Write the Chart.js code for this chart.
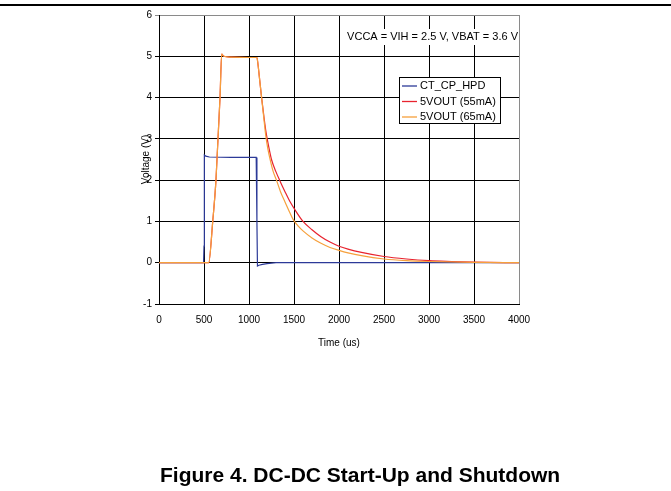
<!DOCTYPE html>
<html>
<head>
<meta charset="utf-8">
<script src="https://cdn.jsdelivr.net/npm/chart.js@4"></script>
<style>
  body { margin: 0; background: #fff; width: 671px; height: 491px; overflow: hidden; position: relative; font-family: "Liberation Sans", Arial, sans-serif; }
  #rule { position: absolute; left: 0; top: 4px; width: 671px; height: 1.5px; background: #000; }
  #caption { position: absolute; left: 160px; top: 462px; white-space: nowrap; font-weight: bold; font-size: 21px; line-height: 26px; color: #000; }
  canvas { position: absolute; left: 0; top: 0; }
</style>
</head>
<body>
<div id="rule"></div>
<canvas id="chart" width="671" height="491"></canvas>
<div id="caption">Figure 4. DC-DC Start-Up and Shutdown</div>
<script>
const seriesNames = ["CT_CP_HPD", "5VOUT (55mA)", "5VOUT (65mA)"];
const seriesColors = ["#2c3a98", "#e8232e", "#f6a03c"];

const ctTime = [0, 250, 495, 500, 504, 520, 560, 800, 1080, 1088, 1094, 1110, 1150, 1200, 1300, 2000, 3000, 4000];
const ctVolt = [0, 0, 0, 0.4, 2.61, 2.58, 2.56, 2.55, 2.55, 1.0, -0.08, -0.06, -0.04, -0.02, 0, 0, 0, 0];

const v55Time = [0, 250, 552, 597, 633, 678, 697, 720, 800, 1000, 1088, 1100, 1120, 1140, 1165, 1190, 1220, 1250, 1300, 1340, 1400, 1450, 1520, 1600, 1700, 1800, 1900, 2000, 2100, 2250, 2500, 2750, 3000, 3250, 3500, 4000];
const v55Volt = [0, 0, 0, 1.0, 2.0, 4.0, 5.05, 5.0, 4.98, 4.97, 4.97, 4.8, 4.4, 4.0, 3.55, 3.15, 2.8, 2.5, 2.2, 2.0, 1.72, 1.5, 1.25, 1.0, 0.8, 0.63, 0.5, 0.4, 0.33, 0.25, 0.15, 0.09, 0.05, 0.03, 0.015, 0];

const v65Time = [0, 250, 552, 597, 633, 678, 697, 720, 800, 1000, 1088, 1100, 1120, 1140, 1160, 1185, 1210, 1240, 1270, 1305, 1350, 1400, 1450, 1490, 1550, 1600, 1700, 1800, 1900, 2000, 2100, 2250, 2500, 2750, 3000, 3500, 4000];
const v65Volt = [0, 0, 0, 1.0, 2.0, 4.0, 5.05, 5.0, 4.98, 4.97, 4.97, 4.8, 4.4, 4.0, 3.6, 3.1, 2.75, 2.45, 2.2, 2.0, 1.72, 1.47, 1.23, 1.05, 0.88, 0.77, 0.6, 0.47, 0.37, 0.3, 0.24, 0.17, 0.09, 0.05, 0.03, 0.01, 0];

const noteText = "VCCA = VIH = 2.5 V, VBAT = 3.6 V";
const FONT = "'Liberation Sans', Arial, sans-serif";

function toPoints(t, v) {
    return t.map((x, i) => ({ x: x, y: v[i] }));
}

// legend box + condition note inside the plot
const overlayPlugin = {
    id: "overlay",
    afterDatasetsDraw(chart) {
        const ctx = chart.ctx;
        const x = chart.scales.x;
        ctx.save();
        ctx.font = "11px " + FONT;
        const w = ctx.measureText(noteText).width;
        ctx.fillStyle = "#fff";
        ctx.fillRect(x.right - w - 4, 29, w + 3, 16);
        ctx.fillStyle = "#000";
        ctx.textAlign = "right";
        ctx.textBaseline = "middle";
        ctx.fillText(noteText, x.right - 1, 37);

        const bx = 399, by = 77, bw = 101, bh = 46;
        ctx.fillStyle = "#fff";
        ctx.fillRect(bx, by, bw, bh);
        ctx.strokeStyle = "#000";
        ctx.lineWidth = 1;
        ctx.strokeRect(bx + 0.5, by + 0.5, bw, bh);
        ctx.textAlign = "left";
        seriesNames.forEach((name, i) => {
            const y = by + 9 + i * 15.5;
            ctx.strokeStyle = seriesColors[i];
            ctx.lineWidth = 1.3;
            ctx.beginPath();
            ctx.moveTo(bx + 3, y);
            ctx.lineTo(bx + 18, y);
            ctx.stroke();
            ctx.fillStyle = "#000";
            ctx.fillText(name, bx + 21, y);
        });
        ctx.restore();
    }
};

const sets = [
    { t: ctTime, v: ctVolt, order: 3 },
    { t: v55Time, v: v55Volt, order: 2 },
    { t: v65Time, v: v65Volt, order: 1 }
];

new Chart(document.getElementById("chart"), {
    type: "line",
    data: {
        datasets: sets.map((s, i) => ({
            label: seriesNames[i],
            data: toPoints(s.t, s.v),
            borderColor: seriesColors[i],
            borderWidth: 1.2,
            pointRadius: 0,
            cubicInterpolationMode: i === 0 ? "default" : "monotone",
            tension: i === 0 ? 0 : 0.4,
            fill: false,
            order: s.order
        }))
    },
    options: {
        responsive: false,
        animation: false,
        layout: { padding: { left: 140, right: 152, top: 15, bottom: 142 } },
        plugins: {
            legend: { display: false },
            tooltip: { enabled: false }
        },
        scales: {
            x: {
                type: "linear",
                min: 0,
                max: 4000,
                afterFit: s => { s.height = 45; },
                ticks: { stepSize: 500, color: "#000", font: { size: 10, family: FONT }, padding: 10, maxRotation: 0, callback: v => String(v) },
                grid: {
                    drawTicks: false,
                    lineWidth: 1,
                    color: c => (c.tick && c.tick.value === 4000) ? "#8a8a8a" : "#000"
                },
                border: { color: "#000" },
                title: { display: true, text: "Time (us)", color: "#000", font: { size: 10, family: FONT }, padding: 0 }
            },
            y: {
                min: -1,
                max: 6,
                afterFit: s => { s.width = 19; },
                ticks: { stepSize: 1, color: "#000", font: { size: 10, family: FONT }, padding: 3, callback: v => String(v) },
                grid: {
                    tickLength: 4,
                    lineWidth: 1,
                    color: c => (c.tick && c.tick.value === 6) ? "#8a8a8a" : "#000"
                },
                border: { color: "#000" },
                title: { display: true, text: "Voltage (V)", color: "#000", font: { size: 10, family: FONT }, padding: 0 }
            }
        }
    },
    plugins: [overlayPlugin]
});
</script>
</body>
</html>
